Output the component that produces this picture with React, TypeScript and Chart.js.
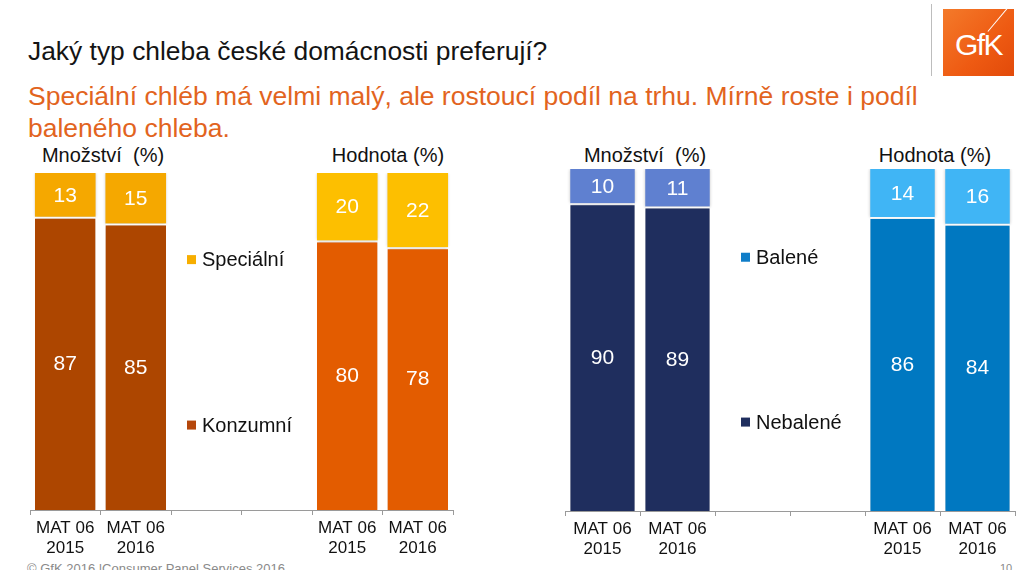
import React, { useEffect, useRef } from "react";
import { Chart, registerables } from "chart.js";

Chart.register(...registerables);

const FONT = "'Liberation Sans', Arial, sans-serif";

const categories = [["MAT 06", "2015"], ["MAT 06", "2016"], "", "", ["MAT 06", "2015"], ["MAT 06", "2016"]];

// Left chart: chléb type (Množství | Hodnota)
const konzumni = [87, 85, null, null, 80, 78];
const specialni = [13, 15, null, null, 20, 22];
// Right chart: packaging (Množství | Hodnota)
const nebalene = [90, 89, null, null, 86, 84];
const balene = [10, 11, null, null, 14, 16];

const leftLegend = ["Speciální", "Konzumní"];
const rightLegend = ["Balené", "Nebalené"];

const C = {
  konzMn: "#AD4600",
  konzHod: "#E35C00",
  specMn: "#F5A800",
  specHod: "#FDBF00",
  nebMn: "#1F2E5E",
  nebHod: "#0078C1",
  balMn: "#5F80D0",
  balHod: "#40B5F5",
};

const valueLabels = {
  id: "valueLabels",
  afterDatasetsDraw(chart: any) {
    const ctx = chart.ctx;
    ctx.save();
    ctx.fillStyle = "#ffffff";
    ctx.font = `21px ${FONT}`;
    ctx.textAlign = "center";
    ctx.textBaseline = "middle";
    chart.data.datasets.forEach((ds: any, di: number) => {
      const meta = chart.getDatasetMeta(di);
      meta.data.forEach((el: any, i: number) => {
        const v = ds.data[i];
        if (v == null) return;
        const y = (el.y + el.base) / 2;
        ctx.fillText(String(v), el.x, y + 1);
      });
    });
    ctx.restore();
  },
};

const innerLegend = {
  id: "innerLegend",
  afterDraw(chart: any, _args: any, opts: any) {
    if (!opts || !opts.items) return;
    const ctx = chart.ctx;
    const xs = chart.scales.x;
    const ys = chart.scales.y;
    const catW = xs.getPixelForValue(1) - xs.getPixelForValue(0);
    const x0 = xs.getPixelForValue(2) - catW / 2 + opts.xOffset;
    ctx.save();
    ctx.font = `20px ${FONT}`;
    ctx.textBaseline = "middle";
    ctx.textAlign = "left";
    opts.items.forEach((it: any) => {
      const y = ys.getPixelForValue(it.value);
      ctx.fillStyle = it.color;
      ctx.fillRect(x0, y - 4.5, 9, 9);
      ctx.fillStyle = "#111";
      ctx.fillText(it.text, x0 + 15, y + 1);
    });
    ctx.restore();
  },
};

const barShadow = {
  id: "barShadow",
  beforeDatasetsDraw(chart: any) {
    chart.ctx.save();
    chart.ctx.shadowColor = "rgba(0,0,0,0.22)";
    chart.ctx.shadowBlur = 3;
  },
  afterDatasetsDraw(chart: any) {
    chart.ctx.restore();
  },
};

function makeConfig(lower: any[], upper: any[], lowCols: string[], upCols: string[], names: string[], legendItems: any[], xOffset: number) {
  return {
    type: "bar" as const,
    data: {
      labels: categories,
      datasets: [
        {
          label: names[1],
          data: lower,
          backgroundColor: lowCols,
          borderColor: "#ffffff",
          borderWidth: { top: 2, left: 0, right: 0, bottom: 0 },
          borderSkipped: false,
          categoryPercentage: 1,
          barPercentage: 0.86,
        },
        {
          label: names[0],
          data: upper,
          backgroundColor: upCols,
          borderWidth: 0,
          categoryPercentage: 1,
          barPercentage: 0.86,
        },
      ],
    },
    options: {
      animation: false,
      responsive: false,
      maintainAspectRatio: false,
      layout: { padding: { top: 10, left: 2, right: 2, bottom: 0 } },
      plugins: {
        legend: { display: false },
        tooltip: { enabled: false },
        innerLegend: { items: legendItems, xOffset },
      },
      scales: {
        x: {
          stacked: true,
          grid: { drawOnChartArea: false, drawTicks: true, tickLength: 5, color: "#9a9a9a", offset: true },
          border: { color: "#9a9a9a" },
          ticks: { color: "#111", font: { family: FONT, size: 17, lineHeight: 1.2 }, padding: 3, maxRotation: 0, autoSkip: false },
          afterFit: (s: any) => { s.height = 50; },
        },
        y: { stacked: true, display: false, min: 0, max: 100 },
      },
    },
    plugins: [barShadow, valueLabels, innerLegend],
  };
}

function BarChart({ config, style, width, height }: any) {
  const ref = useRef<HTMLCanvasElement>(null);
  useEffect(() => {
    const chart = new Chart(ref.current as HTMLCanvasElement, config);
    return () => chart.destroy();
  }, []);
  return <canvas ref={ref} width={width} height={height} style={{ position: "absolute", ...style }} />;
}

export default function App() {
  const leftCfg = makeConfig(
    konzumni,
    specialni,
    [C.konzMn, C.konzMn, C.konzMn, C.konzMn, C.konzHod, C.konzHod],
    [C.specMn, C.specMn, C.specMn, C.specMn, C.specHod, C.specHod],
    leftLegend.slice(),
    [
      { text: leftLegend[0], color: "#F7AE00", value: 74.3 },
      { text: leftLegend[1], color: "#B5470B", value: 25.2 },
    ],
    16
  );
  const rightCfg = makeConfig(
    nebalene,
    balene,
    [C.nebMn, C.nebMn, C.nebMn, C.nebMn, C.nebHod, C.nebHod],
    [C.balMn, C.balMn, C.balMn, C.balMn, C.balHod, C.balHod],
    rightLegend.slice(),
    [
      { text: rightLegend[0], color: "#0F7DC8", value: 74.2 },
      { text: rightLegend[1], color: "#1F2E5E", value: 26 },
    ],
    26
  );

  const hdr: React.CSSProperties = { position: "absolute", fontSize: 20, color: "#111", whiteSpace: "pre", transform: "translateX(-50%)", top: 144 };

  return (
    <div style={{ position: "absolute", left: 0, top: 0, width: 1026, height: 570, background: "#fff", overflow: "hidden", fontFamily: FONT }}>
      <div style={{ position: "absolute", left: 28, top: 36, fontSize: 26.4, color: "#141414", whiteSpace: "nowrap" }}>
        Jaký typ chleba české domácnosti preferují?
      </div>
      <div style={{ position: "absolute", left: 28, top: 81, fontSize: 26.5, lineHeight: "31.5px", color: "#E2641E", width: 990, whiteSpace: "nowrap" }}>
        Speciální chléb má velmi malý, ale rostoucí podíl na trhu. Mírně roste i podíl
        <br />
        baleného chleba.
      </div>
      {/* GfK logo */}
      <div style={{ position: "absolute", left: 931, top: 4, width: 1, height: 72, background: "#bdbdbd" }} />
      <div style={{ position: "absolute", left: 943, top: 9, width: 71, height: 67, background: "linear-gradient(135deg, #F47A2A 0%, #EE5A12 60%, #E24A0A 100%)", overflow: "hidden" }}>
        <div style={{ position: "absolute", left: 0, top: 19, width: 71, textAlign: "center", color: "#fff", fontSize: 30, letterSpacing: -1.5 }}>GfK</div>
        <div style={{ position: "absolute", left: 54, top: -4, width: 1, height: 30, background: "#fff", transform: "rotate(40deg)" }} />
      </div>

      <div style={{ ...hdr, left: 103 }}>Množství  (%)</div>
      <div style={{ ...hdr, left: 388 }}>Hodnota (%)</div>
      <div style={{ ...hdr, left: 645 }}>Množství  (%)</div>
      <div style={{ ...hdr, left: 935 }}>Hodnota (%)</div>

      <BarChart config={leftCfg} width={427} height={397} style={{ left: 28, top: 163 }} />
      <BarChart config={rightCfg} width={454} height={402} style={{ left: 563, top: 159 }} />

      <div style={{ position: "absolute", left: 27, top: 561, fontSize: 13, color: "#8a8a8a", whiteSpace: "nowrap" }}>
        © GfK 2016 |Consumer Panel Services 2016
      </div>
      <div style={{ position: "absolute", left: 1000, top: 562, fontSize: 11, color: "#8a8a8a" }}>10</div>
    </div>
  );
}
